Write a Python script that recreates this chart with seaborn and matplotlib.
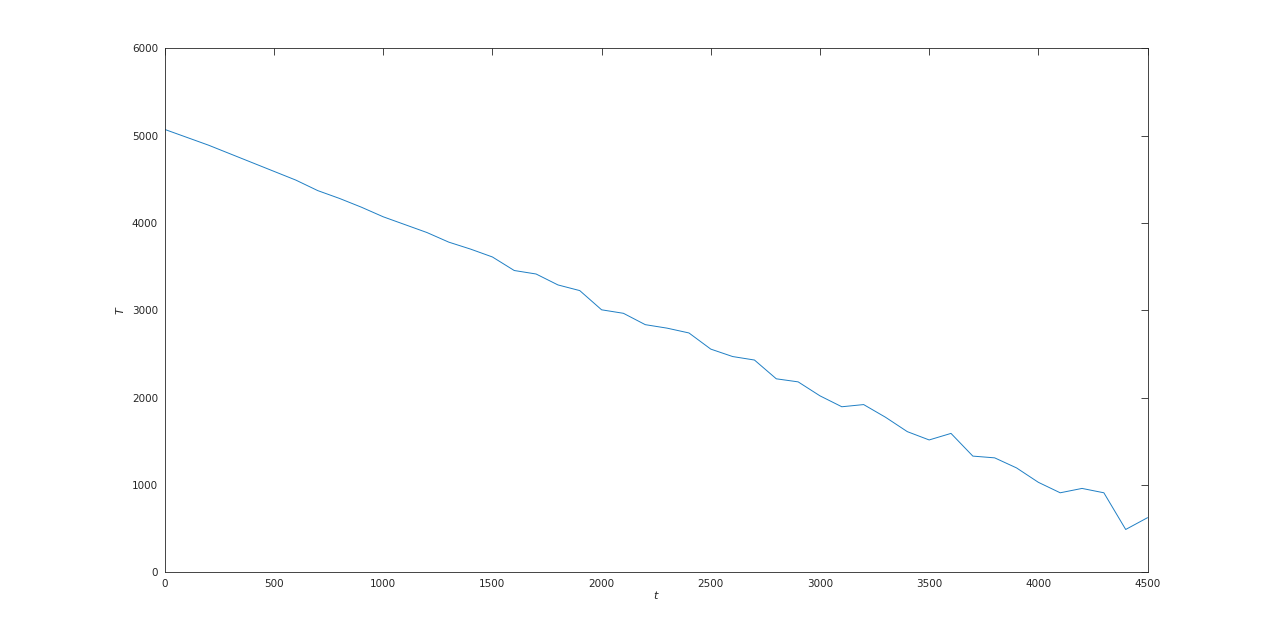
import numpy as np
import pandas as pd
import seaborn as sns
import matplotlib
matplotlib.use("Agg")
import matplotlib.pyplot as plt

t_values = list(range(0, 4600, 100))
T_values = [5070, 4980, 4890, 4790, 4690, 4590, 4490, 4370, 4280, 4180,
            4070, 3980, 3890, 3780, 3700, 3610, 3455, 3415, 3290, 3225,
            3005, 2965, 2835, 2795, 2740, 2555, 2470, 2430, 2215, 2180,
            2020, 1895, 1920, 1775, 1610, 1515, 1590, 1330, 1310, 1195,
            1030, 910, 960, 910, 490, 625]
x_ticks = [0, 500, 1000, 1500, 2000, 2500, 3000, 3500, 4000, 4500]
y_ticks = [0, 1000, 2000, 3000, 4000, 5000, 6000]

df = pd.DataFrame({"t": t_values, "T": T_values})

sns.set_theme(style="white")
plt.rcParams['font.family'] = ['DejaVu Sans']

fig = plt.figure(figsize=(12.68, 6.43), dpi=100)
ax = fig.add_axes([0.13, 0.11, 0.775, 0.815])
sns.lineplot(data=df, x="t", y="T", ax=ax, color="#1f7fc4", linewidth=0.7)

ax.set_xlim(0, 4500)
ax.set_ylim(0, 6000)
ax.set_xticks(x_ticks)
ax.set_yticks(y_ticks)
ax.tick_params(direction="in", length=5, width=0.6, colors="#262626",
               labelsize=7.5, top=True, right=True, pad=5)
for s in ax.spines.values():
    s.set_color("#262626")
    s.set_linewidth(0.6)
ax.set_xlabel("$t$", fontsize=8, color="#262626", labelpad=0)
ax.set_ylabel("$T$", fontsize=8, color="#262626", labelpad=4, rotation=90)

fig.savefig("out.png", dpi=100, facecolor="white")
